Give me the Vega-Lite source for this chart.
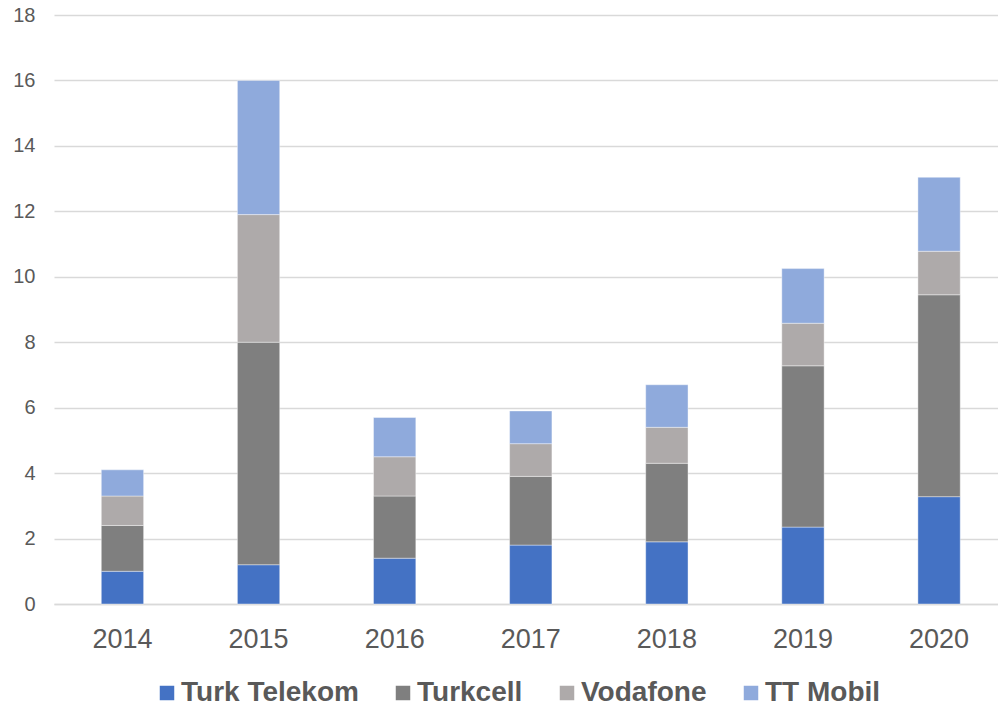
{
  "$schema": "https://vega.github.io/schema/vega-lite/v6.json",
  "autosize": "none",
  "width": 944,
  "height": 589,
  "padding": {"left": 54, "top": 15, "right": 0, "bottom": 102},
  "background": "#ffffff",
  "config": {
    "font": "Liberation Sans",
    "view": {"stroke": null}
  },
  "data": {
    "values": [
      {"year": "2014", "operator": "Turk Telekom", "rank": 1, "value": 1.0},
      {"year": "2014", "operator": "Turkcell", "rank": 2, "value": 1.4},
      {"year": "2014", "operator": "Vodafone", "rank": 3, "value": 0.9},
      {"year": "2014", "operator": "TT Mobil", "rank": 4, "value": 0.8},
      {"year": "2015", "operator": "Turk Telekom", "rank": 1, "value": 1.2},
      {"year": "2015", "operator": "Turkcell", "rank": 2, "value": 6.8},
      {"year": "2015", "operator": "Vodafone", "rank": 3, "value": 3.9},
      {"year": "2015", "operator": "TT Mobil", "rank": 4, "value": 4.1},
      {"year": "2016", "operator": "Turk Telekom", "rank": 1, "value": 1.4},
      {"year": "2016", "operator": "Turkcell", "rank": 2, "value": 1.9},
      {"year": "2016", "operator": "Vodafone", "rank": 3, "value": 1.2},
      {"year": "2016", "operator": "TT Mobil", "rank": 4, "value": 1.2},
      {"year": "2017", "operator": "Turk Telekom", "rank": 1, "value": 1.8},
      {"year": "2017", "operator": "Turkcell", "rank": 2, "value": 2.1},
      {"year": "2017", "operator": "Vodafone", "rank": 3, "value": 1.0},
      {"year": "2017", "operator": "TT Mobil", "rank": 4, "value": 1.0},
      {"year": "2018", "operator": "Turk Telekom", "rank": 1, "value": 1.9},
      {"year": "2018", "operator": "Turkcell", "rank": 2, "value": 2.4},
      {"year": "2018", "operator": "Vodafone", "rank": 3, "value": 1.1},
      {"year": "2018", "operator": "TT Mobil", "rank": 4, "value": 1.3},
      {"year": "2019", "operator": "Turk Telekom", "rank": 1, "value": 2.35},
      {"year": "2019", "operator": "Turkcell", "rank": 2, "value": 4.93},
      {"year": "2019", "operator": "Vodafone", "rank": 3, "value": 1.3},
      {"year": "2019", "operator": "TT Mobil", "rank": 4, "value": 1.67},
      {"year": "2020", "operator": "Turk Telekom", "rank": 1, "value": 3.28},
      {"year": "2020", "operator": "Turkcell", "rank": 2, "value": 6.17},
      {"year": "2020", "operator": "Vodafone", "rank": 3, "value": 1.33},
      {"year": "2020", "operator": "TT Mobil", "rank": 4, "value": 2.26}
    ]
  },
  "mark": {"type": "bar", "stroke": "#ffffff", "strokeOpacity": 0.4, "strokeWidth": 1},
  "encoding": {
    "x": {
      "field": "year",
      "type": "ordinal",
      "scale": {"paddingInner": 0.689, "paddingOuter": 0.3125, "align": 0.556},
      "axis": {
        "title": null,
        "labelAngle": 0,
        "labelFontSize": 27,
        "labelColor": "#595959",
        "labelPadding": 22,
        "ticks": false,
        "domainColor": "#d9d9d9",
        "domainWidth": 1.5
      }
    },
    "y": {
      "field": "value",
      "type": "quantitative",
      "stack": "zero",
      "scale": {"domain": [0, 18], "nice": false},
      "axis": {
        "title": null,
        "values": [0, 2, 4, 6, 8, 10, 12, 14, 16, 18],
        "labelFontSize": 20,
        "labelColor": "#595959",
        "labelPadding": 19,
        "ticks": false,
        "domain": false,
        "gridColor": "#d9d9d9",
        "gridWidth": 1.5
      }
    },
    "order": {"field": "rank", "type": "quantitative", "sort": "ascending"},
    "color": {
      "field": "operator",
      "type": "nominal",
      "scale": {
        "domain": ["Turk Telekom", "Turkcell", "Vodafone", "TT Mobil"],
        "range": ["#4472C4", "#7F7F7F", "#AEAAAA", "#8FAADC"]
      },
      "legend": {
        "title": null,
        "orient": "none",
        "direction": "horizontal",
        "legendX": 99,
        "legendY": 664,
        "symbolType": "square",
        "symbolSize": 210,
        "symbolStrokeWidth": 0,
        "symbolOpacity": 1,
        "labelFontSize": 28,
        "labelFontWeight": "bold",
        "labelColor": "#595959",
        "labelOffset": 0,
        "columnPadding": 30,
        "labelLimit": 400
      }
    }
  }
}
